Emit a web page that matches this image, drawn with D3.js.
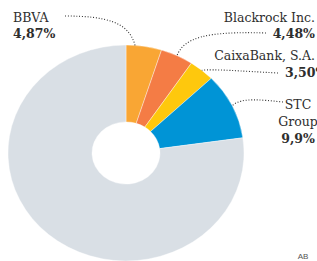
<!DOCTYPE html>
<html>
<head>
<meta charset="utf-8">
<script src="https://cdn.jsdelivr.net/npm/d3@7"></script>
<style>
  html, body { margin: 0; padding: 0; background: #fff; }
  svg { display: block; }
  .lbl { font-family: "DejaVu Serif", serif; font-size: 12.5px; fill: #2e2e2e; }
  .val { font-weight: bold; }
  .leader { fill: none; stroke: #333; stroke-width: 1.1; stroke-dasharray: 1 1.8; }
</style>
</head>
<body>
<svg id="chart" width="317" height="261"></svg>
<script>
const names = ["BBVA", "Blackrock Inc.", "CaixaBank, S.A.", "STC Group"];
const shares = [4.87, 4.48, 3.50, 9.9];
const valueLabels = ["4,87%", "4,48%", "3,50%", "9,9%"];
const colors = ["#f9a634", "#f47c45", "#fec80d", "#0094d6"];
const restColor = "#d9dfe5";

const svg = d3.select("#chart");
const cx = 126, cy = 153, squash = 0.915;
const rOuter = 118, rInner = 34;

const slices = names.map((n, i) => ({ name: n, value: shares[i], color: colors[i] }));
slices.push({ name: "rest", value: 100 - d3.sum(shares), color: restColor });

const pie = d3.pie().sort(null).value(d => d.value);
const arcs = pie(slices);
const arc = d3.arc().innerRadius(rInner).outerRadius(rOuter);

const g = svg.append("g").attr("transform", `translate(${cx},${cy}) scale(1,${squash})`);
g.selectAll("path")
  .data(arcs)
  .join("path")
  .attr("d", arc)
  .attr("fill", d => d.data.color)
  .attr("stroke", "#fff")
  .attr("stroke-width", 0.4);

// point on the outer edge, in screen coordinates
const edge = (a) => [cx + rOuter * Math.sin(a), cy - rOuter * Math.cos(a) * squash];
const at = (i, f) => arcs[i].startAngle + f * (arcs[i].endAngle - arcs[i].startAngle);

// leader lines: label end -> slice edge
const leaders = [
  { i: 0, f: 0.25, from: [65, 16], c1: [106, 16], c2: [129, 22] },
  { i: 1, f: 0.5, from: [266, 33], c1: [205, 31], c2: [184, 38] },
  { i: 2, f: 0.5, from: [278, 73], c1: [240, 71], c2: [214, 69] },
  { i: 3, f: 0.5, from: [283, 102], c1: [262, 100], c2: [241, 97] }
];
svg.selectAll(".leader")
  .data(leaders)
  .join("path")
  .attr("class", "leader")
  .attr("d", d => {
    const p = d3.path();
    const e = edge(at(d.i, d.f));
    p.moveTo(...d.from);
    p.bezierCurveTo(...d.c1, ...d.c2, ...e);
    return p.toString();
  });

// labels
const labelPos = [
  { x: 13, anchor: "start", y: 22, vx: 13, vanchor: "start", vy: 38 },
  { x: 315, anchor: "end", y: 22, vx: 315, vanchor: "end", vy: 38 },
  { x: 315, anchor: "end", y: 60, vx: 285, vanchor: "start", vy: 77 },
  { x: 298, anchor: "middle", y: 109, vx: 298, vanchor: "middle", vy: 143 }
];
labelPos.forEach((p, i) => {
  const parts = i === 3 ? ["STC", "Group"] : [names[i]];
  const t = svg.append("text").attr("class", "lbl").attr("text-anchor", p.anchor);
  parts.forEach((s, k) => t.append("tspan").attr("x", p.x).attr("y", p.y + k * 17).text(s));
  svg.append("text").attr("class", "lbl val")
    .attr("x", p.vx).attr("y", p.vy)
    .attr("text-anchor", p.vanchor)
    .text(valueLabels[i]);
});

svg.append("text")
  .attr("x", 303).attr("y", 259)
  .attr("text-anchor", "middle")
  .attr("font-family", "Liberation Sans, Arial, sans-serif")
  .attr("font-size", 8)
  .attr("fill", "#555")
  .text("AB");
</script>
</body>
</html>
